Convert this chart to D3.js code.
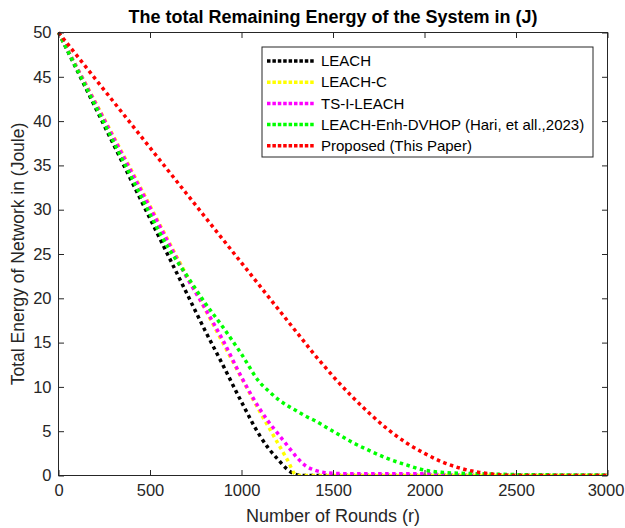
<!DOCTYPE html>
<html>
<head>
<meta charset="utf-8">
<script src="https://cdn.jsdelivr.net/npm/d3@7"></script>
<style>
  body { margin: 0; background: #fff; }
  text { font-family: "Liberation Sans", Arial, sans-serif; }
</style>
</head>
<body>
<script>
// rounds
var rounds = [0, 200, 400, 600, 700, 800, 900, 1000, 1100, 1150, 1200, 1250, 1300, 1350, 1400, 1450, 1500, 1600, 1700, 1800, 1900, 2000, 2100, 2200, 2300, 2400, 2500, 3000];

var leach     = [50, 41.6, 33.2, 24.8, 20.6, 16.4, 12.4, 8.3, 4.5, 3.0, 1.8, 0.7, 0.1, 0, 0, 0, 0, 0, 0, 0, 0, 0, 0, 0, 0, 0, 0, 0];
var leachC    = [50, 42.2, 34.4, 26.5, 22.6, 18.8, 14.9, 11.0, 7.2, 5.4, 3.6, 1.8, 0.05, 0, 0, 0, 0, 0, 0, 0, 0, 0, 0, 0, 0, 0, 0, 0];
var tsiLeach  = [50, 42.1, 34.2, 26.3, 22.4, 18.9, 15.2, 11.1, 7.5, 6.0, 4.7, 3.4, 2.1, 1.1, 0.6, 0.35, 0.25, 0.2, 0.2, 0.2, 0.2, 0.2, 0.15, 0.05, 0, 0, 0, 0];
var enhDvhop  = [50, 41.8, 33.6, 25.7, 22.6, 19.5, 16.7, 13.7, 10.5, 9.5, 8.6, 7.9, 7.3, 6.7, 6.2, 5.6, 5.0, 3.8, 2.8, 1.9, 1.2, 0.6, 0.35, 0.25, 0.2, 0.15, 0.1, 0.05];
var proposed  = [50, 44.8, 39.6, 34.4, 31.8, 29.2, 26.6, 24.0, 21.4, 20.1, 18.8, 17.5, 16.2, 14.9, 13.6, 12.4, 11.2, 9.0, 7.0, 5.2, 3.7, 2.5, 1.5, 0.8, 0.35, 0.1, 0, 0];

var seriesNames  = ["LEACH", "LEACH-C", "TS-I-LEACH", "LEACH-Enh-DVHOP (Hari, et all.,2023)", "Proposed (This Paper)"];
var seriesColors = ["#000000", "#ffff00", "#ff00ff", "#00ff00", "#ff0000"];
var seriesValues = [leach, leachC, tsiLeach, enhDvhop, proposed];

var xTicks = [0, 500, 1000, 1500, 2000, 2500, 3000];
var yTicks = [0, 5, 10, 15, 20, 25, 30, 35, 40, 45, 50];

var margin = {top: 32.5, right: 17.5, bottom: 52.5, left: 58.5};
var width = 625 - margin.left - margin.right;
var height = 528 - margin.top - margin.bottom;
var axisColor = "#262626";

var svg = d3.select("body").append("svg")
    .attr("width", 625)
    .attr("height", 528);

var g = svg.append("g")
    .attr("transform", "translate(" + margin.left + "," + margin.top + ")");

var xScale = d3.scaleLinear().domain([0, 3000]).range([0, width]);
var yScale = d3.scaleLinear().domain([0, 50]).range([height, 0]);

// lines first, axes box on top like MATLAB
var line = d3.line()
    .x(function(d) { return xScale(d[0]); })
    .y(function(d) { return yScale(d[1]); })
    .curve(d3.curveMonotoneX);

g.append("clipPath").attr("id", "clip")
    .append("rect").attr("x", -3).attr("y", -3).attr("width", width + 6).attr("height", height + 3);

g.append("g").attr("clip-path", "url(#clip)")
    .selectAll("path")
    .data(seriesValues)
    .enter()
    .append("path")
    .attr("d", function(vals) { return line(rounds.map(function(r, i) { return [r, vals[i]]; })); })
    .attr("fill", "none")
    .attr("stroke", function(d, i) { return seriesColors[i]; })
    .attr("stroke-width", 3.5)
    .attr("stroke-dasharray", "3.5,3.5");

function styleAxis(sel) {
    sel.select(".domain").remove();
    sel.selectAll(".tick line").attr("stroke", axisColor);
    sel.selectAll(".tick text")
        .attr("fill", axisColor)
        .style("font-size", "16.5px")
        .style("font-family", "'Liberation Sans', Arial, sans-serif");
}

var xAxis = d3.axisBottom(xScale).tickValues(xTicks).tickFormat(d3.format("d"))
    .tickSizeInner(-5.5).tickSizeOuter(0).tickPadding(9);
var yAxis = d3.axisLeft(yScale).tickValues(yTicks).tickFormat(d3.format("d"))
    .tickSizeInner(-5.5).tickSizeOuter(0).tickPadding(7);

g.append("g").attr("class", "x axis")
    .attr("transform", "translate(0," + height + ")")
    .call(xAxis).call(styleAxis);

// keep the last label inside the window
g.select(".x.axis").selectAll(".tick text")
    .filter(function(d) { return d === 3000; })
    .attr("dx", -2);

g.append("g").attr("class", "y axis")
    .call(yAxis).call(styleAxis);

g.append("g").attr("class", "x axis top")
    .call(d3.axisTop(xScale).tickValues(xTicks).tickSizeInner(-5.5).tickSizeOuter(0).tickFormat(""))
    .call(styleAxis);

g.append("g").attr("class", "y axis right")
    .attr("transform", "translate(" + width + ",0)")
    .call(d3.axisRight(yScale).tickValues(yTicks).tickSizeInner(-5.5).tickSizeOuter(0).tickFormat(""))
    .call(styleAxis);

g.append("rect")
    .attr("width", width)
    .attr("height", height)
    .attr("fill", "none")
    .attr("stroke", axisColor)
    .attr("stroke-width", 1);

// title and labels
svg.append("text")
    .attr("x", margin.left + width / 2)
    .attr("y", 23)
    .attr("text-anchor", "middle")
    .style("font-size", "18px")
    .style("font-weight", "bold")
    .attr("fill", "#000")
    .text("The total Remaining Energy of the System in (J)");

svg.append("text")
    .attr("x", margin.left + width / 2)
    .attr("y", 522)
    .attr("text-anchor", "middle")
    .style("font-size", "18px")
    .attr("fill", axisColor)
    .text("Number of Rounds (r)");

svg.append("text")
    .attr("transform", "translate(24," + (margin.top + height / 2) + ") rotate(-90)")
    .attr("text-anchor", "middle")
    .style("font-size", "17.5px")
    .attr("fill", axisColor)
    .text("Total Energy of Network in (Joule)");

// legend
var legend = svg.append("g").attr("transform", "translate(262,47)");

legend.append("rect")
    .attr("width", 331)
    .attr("height", 110)
    .attr("fill", "#fff")
    .attr("stroke", axisColor)
    .attr("stroke-width", 1);

var items = legend.selectAll("g.item")
    .data(seriesNames)
    .enter()
    .append("g")
    .attr("class", "item")
    .attr("transform", function(d, i) { return "translate(0," + (14 + i * 21.2) + ")"; });

items.append("line")
    .attr("x1", 5).attr("x2", 52)
    .attr("stroke", function(d, i) { return seriesColors[i]; })
    .attr("stroke-width", 3.5)
    .attr("stroke-dasharray", "3.5,1.9");

items.append("text")
    .attr("x", 59)
    .attr("dy", "0.35em")
    .style("font-size", "15px")
    .attr("fill", "#000")
    .text(function(d) { return d; });
</script>
</body>
</html>
